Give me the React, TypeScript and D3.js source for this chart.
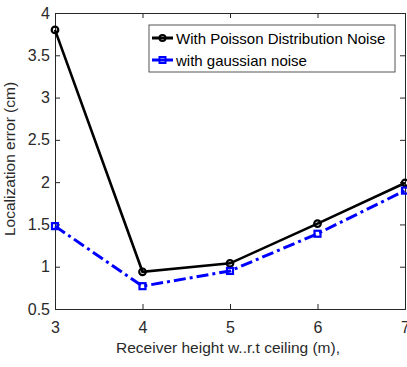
import React, { useEffect, useRef } from "react";
import * as d3 from "d3";

const heights = [3, 4, 5, 6, 7];
const poissonErr = [3.8, 0.94, 1.04, 1.51, 1.99];
const gaussianErr = [1.48, 0.77, 0.95, 1.39, 1.9];
const yTicks = [0.5, 1, 1.5, 2, 2.5, 3, 3.5, 4];
const seriesNames = ["With Poisson Distribution Noise", "with gaussian noise"];

const App = () => {
  const ref = useRef<SVGSVGElement>(null);

  useEffect(() => {
    const width = 407;
    const height = 367;
    const margin = { top: 13, right: 2, bottom: 58, left: 55 };
    const innerW = width - margin.left - margin.right;
    const innerH = height - margin.top - margin.bottom;
    const font = "Liberation Sans, Arial, sans-serif";

    const svg = d3.select(ref.current);
    svg.selectAll("*").remove();
    svg.attr("width", width).attr("height", height);
    svg.append("rect").attr("width", width).attr("height", height).attr("fill", "white");

    const g = svg.append("g").attr("transform", `translate(${margin.left},${margin.top})`);

    const x = d3.scaleLinear().domain([3, 7]).range([0, innerW]);
    const y = d3.scaleLinear().domain([0.5, 4]).range([innerH, 0]);

    // axes
    const xAxis = g.append("g").attr("transform", `translate(0,${innerH})`)
      .call(d3.axisBottom(x).tickValues(heights).tickFormat(d3.format("d")).tickSize(-5).tickPadding(13));
    const yAxis = g.append("g")
      .call(d3.axisLeft(y).tickValues(yTicks).tickFormat(d => String(d)).tickSize(-5).tickPadding(5));
    g.append("g").call(d3.axisTop(x).tickValues(heights).tickSize(-5).tickFormat(() => ""));
    g.append("g").attr("transform", `translate(${innerW},0)`)
      .call(d3.axisRight(y).tickValues(yTicks).tickSize(-5).tickFormat(() => ""));

    g.selectAll(".domain").attr("stroke", "#262626");
    g.selectAll(".tick line").attr("stroke", "#262626");
    [xAxis, yAxis].forEach(a => a.selectAll("text").attr("font-family", font).attr("font-size", 16).attr("fill", "#2a2a2a"));

    const line = d3.line<number>().x((d, i) => x(heights[i])).y(d => y(d));

    g.append("path").datum(poissonErr).attr("d", line).attr("fill", "none")
      .attr("stroke", "black").attr("stroke-width", 2.6);
    g.selectAll(".pm").data(poissonErr).join("circle").attr("class", "pm")
      .attr("cx", (d, i) => x(heights[i])).attr("cy", d => y(d)).attr("r", 3.3)
      .attr("fill", "none").attr("stroke", "black").attr("stroke-width", 2.2);

    g.append("path").datum(gaussianErr).attr("d", line).attr("fill", "none")
      .attr("stroke", "#0000ff").attr("stroke-width", 3).attr("stroke-dasharray", "12,4,3,4");
    g.selectAll(".gm").data(gaussianErr).join("rect").attr("class", "gm")
      .attr("x", (d, i) => x(heights[i]) - 3).attr("y", d => y(d) - 3).attr("width", 6).attr("height", 6)
      .attr("fill", "none").attr("stroke", "#0000ff").attr("stroke-width", 2.2);

    // labels
    svg.append("text").attr("x", 228).attr("y", 353).attr("text-anchor", "middle")
      .attr("font-family", font).attr("font-size", 15.5).attr("fill", "#2a2a2a")
      .text("Receiver height w..r.t ceiling (m),");
    svg.append("text").attr("transform", "rotate(-90)").attr("x", -159).attr("y", 15)
      .attr("text-anchor", "middle").attr("font-family", font).attr("font-size", 15.5).attr("fill", "#2a2a2a")
      .text("Localization error (cm)");

    // legend
    const legend = svg.append("g").attr("transform", "translate(149,25)");
    legend.append("rect").attr("width", 246).attr("height", 47).attr("fill", "white")
      .attr("stroke", "#555").attr("stroke-width", 1);
    const colors = ["black", "#0000ff"];
    seriesNames.forEach((name, i) => {
      const ly = 13 + i * 22;
      legend.append("line").attr("x1", 3).attr("x2", 24).attr("y1", ly).attr("y2", ly)
        .attr("stroke", colors[i]).attr("stroke-width", 3);
      if (i === 0) {
        legend.append("circle").attr("cx", 13.5).attr("cy", ly).attr("r", 3)
          .attr("fill", "none").attr("stroke", colors[i]).attr("stroke-width", 2);
      } else {
        legend.append("rect").attr("x", 10.5).attr("y", ly - 3).attr("width", 6).attr("height", 6)
          .attr("fill", "none").attr("stroke", colors[i]).attr("stroke-width", 2);
      }
      legend.append("text").attr("x", 27).attr("y", ly + 5.5).attr("font-family", font)
        .attr("font-size", 15).attr("fill", "black").text(name);
    });
  }, []);

  return <svg ref={ref} style={{ position: "absolute", left: 0, top: 0 }}></svg>;
};

export default App;
